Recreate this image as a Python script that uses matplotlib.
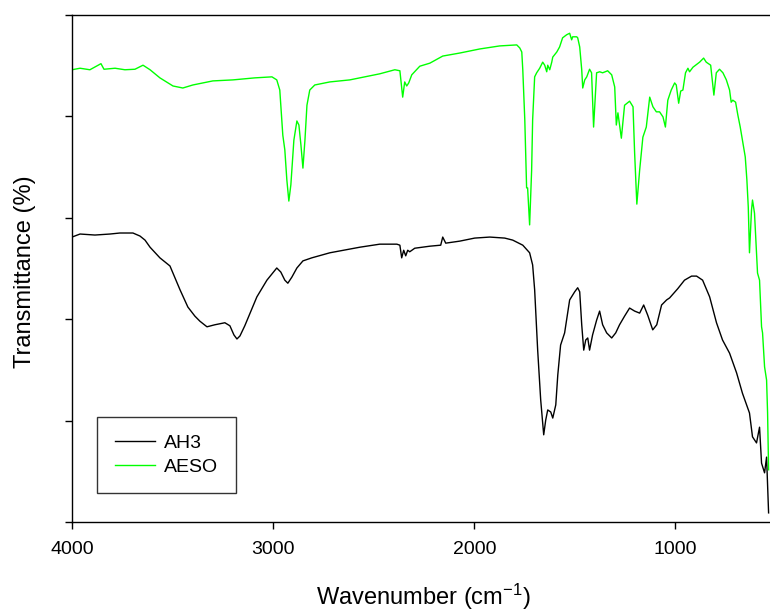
import matplotlib
matplotlib.use("Agg")
import matplotlib.pyplot as plt

plt.rcParams['font.family'] = ['Liberation Sans', 'DejaVu Sans']
plt.rcParams['mathtext.fontset'] = 'custom'
plt.rcParams['mathtext.rm'] = 'Liberation Sans'
plt.rcParams['mathtext.it'] = 'Liberation Sans:italic'
plt.rcParams['mathtext.bf'] = 'Liberation Sans:bold'

# AESO spectrum as (wavenumber cm-1, transmittance %) pairs
aeso_points = [
    (4000, 89.2), (3960, 89.5), (3911, 89.2), (3856, 90.4), (3841, 89.3),
    (3786, 89.5), (3737, 89.2), (3687, 89.3), (3647, 90.1), (3612, 89.2),
    (3563, 87.6), (3498, 86.0), (3449, 85.6), (3399, 86.2), (3300, 87.0),
    (3200, 87.2), (3091, 87.6), (3006, 87.8), (2982, 87.2), (2967, 85.2),
    (2952, 76.3), (2942, 73.4), (2932, 67.5), (2922, 63.3), (2912, 66.5),
    (2897, 75.3), (2882, 79.1), (2872, 78.3), (2862, 74.4), (2852, 69.8),
    (2842, 75.3), (2832, 82.2), (2818, 85.2), (2793, 86.2), (2718, 86.8),
    (2619, 87.2), (2544, 87.8), (2470, 88.4), (2395, 89.2), (2370, 89.0),
    (2356, 83.8), (2346, 86.8), (2336, 86.0), (2326, 86.6), (2311, 88.2),
    (2271, 89.9), (2221, 90.5), (2157, 91.9), (2072, 92.5), (1973, 93.3),
    (1874, 93.9), (1789, 94.1), (1774, 93.5), (1764, 92.7), (1759, 89.2),
    (1749, 79.3), (1740, 65.9), (1735, 65.9), (1725, 58.6), (1715, 69.4),
    (1710, 79.3), (1700, 87.8), (1690, 88.6), (1675, 89.5), (1660, 90.7),
    (1650, 90.1), (1640, 88.8), (1635, 90.1), (1625, 89.2), (1615, 90.7),
    (1610, 91.7), (1590, 92.7), (1576, 93.7), (1561, 95.5), (1541, 96.1),
    (1526, 96.4), (1516, 95.1), (1511, 95.7), (1491, 95.7), (1486, 95.5),
    (1476, 93.7), (1466, 89.2), (1461, 85.6), (1451, 87.2), (1441, 87.8),
    (1427, 89.3), (1417, 88.6), (1407, 77.9), (1392, 88.6), (1377, 88.8),
    (1362, 88.6), (1337, 89.0), (1317, 88.2), (1302, 85.8), (1294, 78.3),
    (1286, 80.7), (1269, 75.7), (1253, 82.2), (1228, 83.0), (1211, 81.9),
    (1203, 72.8), (1192, 62.7), (1178, 69.4), (1162, 75.9), (1145, 77.9),
    (1128, 83.8), (1112, 81.9), (1095, 80.9), (1079, 80.9), (1062, 79.9),
    (1050, 77.9), (1038, 83.2), (1021, 85.2), (1004, 86.6), (996, 86.2),
    (984, 82.6), (974, 85.0), (963, 85.2), (950, 88.6), (938, 89.5),
    (930, 88.8), (913, 89.7), (880, 90.7), (860, 91.5), (847, 90.7),
    (825, 90.1), (809, 84.2), (797, 88.6), (781, 89.3), (764, 88.6),
    (747, 87.2), (731, 85.2), (723, 82.8), (715, 83.2), (701, 82.8),
    (690, 80.3), (678, 77.9), (665, 74.8), (653, 72.0), (645, 67.5),
    (638, 62.1), (632, 53.1), (622, 61.5), (617, 63.5), (607, 60.9),
    (592, 49.1), (582, 47.7), (572, 38.5), (567, 37.3), (557, 30.6),
    (547, 28.0), (542, 21.5), (537, 10.3),
]

# AH3 spectrum as (wavenumber cm-1, transmittance %) pairs
ah3_points = [
    (4000, 56.2), (3960, 56.8), (3886, 56.6), (3811, 56.8), (3762, 57.0),
    (3697, 57.0), (3662, 56.4), (3637, 55.6), (3612, 54.2), (3563, 52.1),
    (3513, 50.5), (3463, 45.8), (3424, 42.4), (3389, 40.6), (3364, 39.6),
    (3329, 38.5), (3290, 38.9), (3240, 39.3), (3215, 38.7), (3195, 36.9),
    (3180, 36.1), (3165, 36.7), (3141, 38.7), (3081, 44.4), (3031, 47.7),
    (2982, 50.1), (2962, 49.3), (2942, 47.7), (2927, 47.1), (2907, 48.3),
    (2882, 50.1), (2852, 51.5), (2808, 52.1), (2718, 53.1), (2569, 54.2),
    (2470, 54.8), (2385, 54.8), (2370, 54.6), (2361, 52.1), (2351, 53.6),
    (2341, 52.5), (2331, 53.6), (2321, 53.3), (2296, 54.0), (2221, 54.4),
    (2167, 54.6), (2157, 56.2), (2142, 55.0), (2072, 55.4), (1998, 56.0),
    (1923, 56.2), (1849, 56.0), (1809, 55.6), (1759, 54.6), (1725, 53.1),
    (1710, 50.7), (1700, 45.8), (1685, 33.9), (1670, 24.1), (1655, 17.2),
    (1645, 20.1), (1635, 22.1), (1620, 21.7), (1610, 20.5), (1595, 23.1),
    (1585, 29.0), (1571, 34.9), (1551, 37.3), (1526, 43.8), (1501, 45.4),
    (1486, 46.2), (1476, 45.4), (1466, 38.9), (1456, 33.9), (1446, 35.9),
    (1436, 36.3), (1427, 33.9), (1412, 36.9), (1392, 39.8), (1377, 41.6),
    (1362, 38.9), (1342, 37.3), (1317, 36.3), (1297, 37.3), (1278, 38.9),
    (1253, 40.6), (1228, 42.2), (1203, 41.6), (1178, 41.2), (1158, 42.8),
    (1138, 40.8), (1113, 37.9), (1093, 38.9), (1069, 42.8), (1044, 43.8),
    (1029, 44.2), (989, 46.0), (955, 47.7), (920, 48.5), (895, 48.5),
    (865, 47.7), (830, 44.4), (796, 39.3), (766, 35.9), (731, 33.3),
    (696, 29.4), (667, 25.4), (632, 21.5), (617, 16.8), (597, 15.6),
    (582, 18.7), (572, 11.6), (557, 9.7), (547, 12.8), (537, 1.8),
]

series_labels = ['AH3', 'AESO']
series_colors = ['black', '#00ff00']
x_ticks = [4000, 3000, 2000, 1000]
y_ticks = [0, 20, 40, 60, 80, 100]

fig = plt.figure(figsize=(7.70, 6.12), dpi=100)
ax = fig.add_axes([72 / 770, 1 - 522 / 612, 698 / 770, 507 / 612])

for pts, lab, col in zip([ah3_points, aeso_points], series_labels, series_colors):
    wn, tr = zip(*pts)
    ax.plot(wn, tr, color=col, lw=1.0, label=lab)

ax.set_xlim(4000, 530)
ax.set_ylim(0, 100)
ax.set_xticks(x_ticks)
ax.set_xticklabels([str(v) for v in x_ticks])
ax.set_yticks(y_ticks)
ax.set_yticklabels([])

for side in ('left', 'bottom', 'top'):
    ax.spines[side].set_linewidth(1.0)
    ax.spines[side].set_color('black')
ax.spines['right'].set_visible(False)

ax.tick_params(axis='both', direction='out', length=5, width=1.0,
               labelsize=14, colors='black', pad=8.5)
ax.tick_params(axis='x', top=False)

ax.set_xlabel('Wavenumber (cm$^{-1}$)', fontsize=17, va='center')
ax.xaxis.set_label_coords(0.504, -0.148)
ax.set_ylabel('Transmittance (%)', fontsize=17, va='center')
ax.yaxis.set_label_coords(-0.068, 0.493)

leg = ax.legend(loc='upper left', bbox_to_anchor=(0.036, 0.207), borderaxespad=0,
                fontsize=14, frameon=True, fancybox=False, handlelength=2.1,
                handletextpad=0.45, borderpad=0.9, labelspacing=0.3)
leg.get_frame().set_edgecolor('black')
leg.get_frame().set_linewidth(1.0)

fig.savefig('out.png', dpi=100)
